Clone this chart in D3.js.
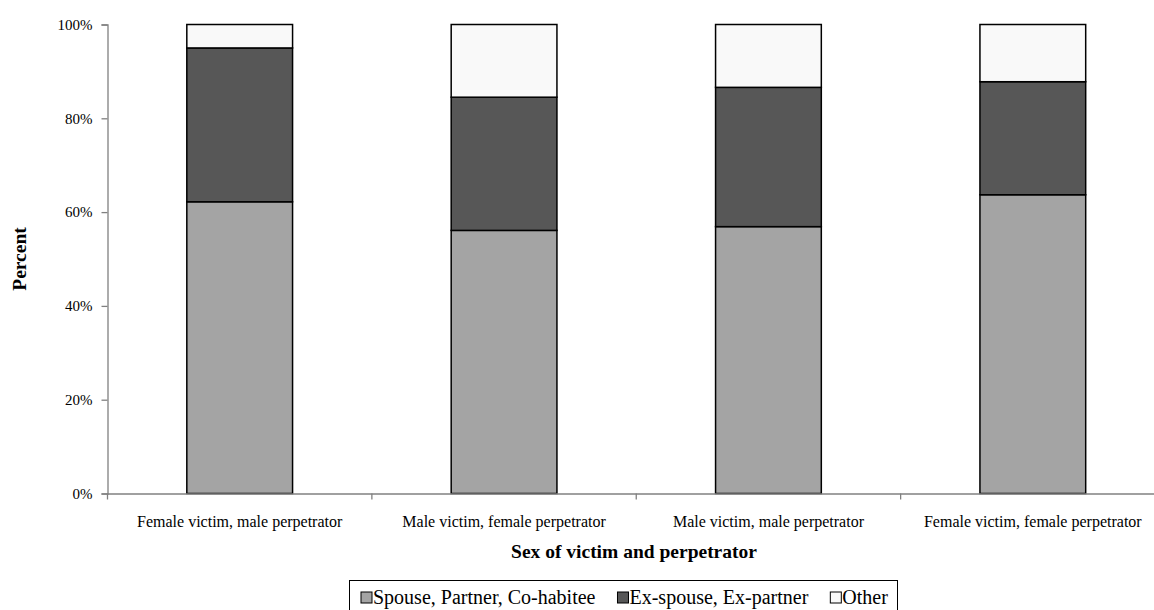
<!DOCTYPE html>
<html>
<head>
<meta charset="utf-8">
<script src="https://cdn.jsdelivr.net/npm/d3@7"></script>
<style>
  html, body { margin: 0; padding: 0; background: #fff; }
  svg { display: block; font-family: "Liberation Serif", "Times New Roman", serif; }
</style>
</head>
<body>
<svg id="chart" width="1154" height="610"></svg>
<script>
const categories = [
  "Female victim, male perpetrator",
  "Male victim, female perpetrator",
  "Male victim, male perpetrator",
  "Female victim, female perpetrator"
];
const seriesNames = ["Spouse, Partner, Co-habitee", "Ex-spouse, Ex-partner", "Other"];
const spouse = [62.2, 56.1, 56.9, 63.7];
const exSpouse = [32.8, 28.4, 29.7, 24.1];
const other = [5.0, 15.5, 13.4, 12.2];
const yTicks = [0, 20, 40, 60, 80, 100];
const colors = ["#a4a4a4", "#575757", "#f9f9f9"];

const width = 1154;
const height = 610;
const margin = { top: 24.5, right: -11, bottom: 116.5, left: 107.5 };

const rows = categories.map((c, i) => ({
  cat: c,
  [seriesNames[0]]: spouse[i],
  [seriesNames[1]]: exSpouse[i],
  [seriesNames[2]]: other[i]
}));
const stacked = d3.stack().keys(seriesNames)(rows);

const svg = d3.select("#chart");

const xBand = d3.scaleBand()
  .domain(categories)
  .range([margin.left, width - margin.right])
  .paddingInner(0.6)
  .paddingOuter(0.3);

const xEdge = d3.scaleBand()
  .domain(categories)
  .range([margin.left, width - margin.right]);

const y = d3.scaleLinear()
  .domain([0, 100])
  .range([height - margin.bottom, margin.top]);

// bars
svg.append("g")
  .selectAll("g")
  .data(stacked)
  .join("g")
  .attr("fill", (d, i) => colors[i])
  .selectAll("rect")
  .data(d => d)
  .join("rect")
  .attr("x", d => xBand(d.data.cat))
  .attr("y", d => y(d[1]))
  .attr("width", xBand.bandwidth())
  .attr("height", d => y(d[0]) - y(d[1]))
  .attr("stroke", "#000")
  .attr("stroke-width", 1.5);

// y axis
const yAxis = svg.append("g")
  .attr("transform", `translate(${margin.left},0)`)
  .call(d3.axisLeft(y).tickValues(yTicks).tickFormat(d => d + "%").tickSize(6).tickPadding(9));
yAxis.select(".domain").attr("stroke", "#808080").attr("stroke-width", 1.3);
yAxis.selectAll(".tick line").attr("stroke", "#808080").attr("stroke-width", 1.3);
yAxis.selectAll(".tick text")
  .attr("font-size", 15)
  .attr("font-family", "Liberation Serif")
  .attr("fill", "#000");

// x axis
const xAxis = svg.append("g")
  .attr("transform", `translate(0,${height - margin.bottom})`)
  .call(d3.axisBottom(xEdge).tickSize(0).tickPadding(22));
xAxis.select(".domain").attr("stroke", "#808080").attr("stroke-width", 1.3);
xAxis.selectAll(".tick text")
  .attr("font-size", 16)
  .attr("font-family", "Liberation Serif")
  .attr("fill", "#000");

xAxis.selectAll(".edge")
  .data(categories)
  .join("line")
  .attr("class", "edge")
  .attr("x1", d => xEdge(d))
  .attr("x2", d => xEdge(d))
  .attr("y1", 0)
  .attr("y2", 6)
  .attr("stroke", "#808080")
  .attr("stroke-width", 1.3);

// titles
svg.append("text")
  .attr("x", 634)
  .attr("y", 558)
  .attr("text-anchor", "middle")
  .attr("font-weight", "bold")
  .attr("font-size", 19.5)
  .text("Sex of victim and perpetrator");

svg.append("text")
  .attr("transform", `translate(26,${(margin.top + height - margin.bottom) / 2}) rotate(-90)`)
  .attr("text-anchor", "middle")
  .attr("font-weight", "bold")
  .attr("font-size", 19.5)
  .text("Percent");

// legend
const legend = svg.append("g");
legend.append("rect")
  .attr("x", 349.5)
  .attr("y", 580.5)
  .attr("width", 548)
  .attr("height", 40)
  .attr("fill", "#fff")
  .attr("stroke", "#000")
  .attr("stroke-width", 1);

let lx = 361;
seriesNames.forEach((name, i) => {
  legend.append("rect")
    .attr("x", lx)
    .attr("y", 592)
    .attr("width", 11)
    .attr("height", 11)
    .attr("fill", colors[i])
    .attr("stroke", "#000")
    .attr("stroke-width", 1);
  const t = legend.append("text")
    .attr("x", lx + 12)
    .attr("y", 604)
    .attr("font-size", 20)
    .text(name);
  lx += 12 + t.node().getComputedTextLength() + 22;
});
</script>
</body>
</html>
